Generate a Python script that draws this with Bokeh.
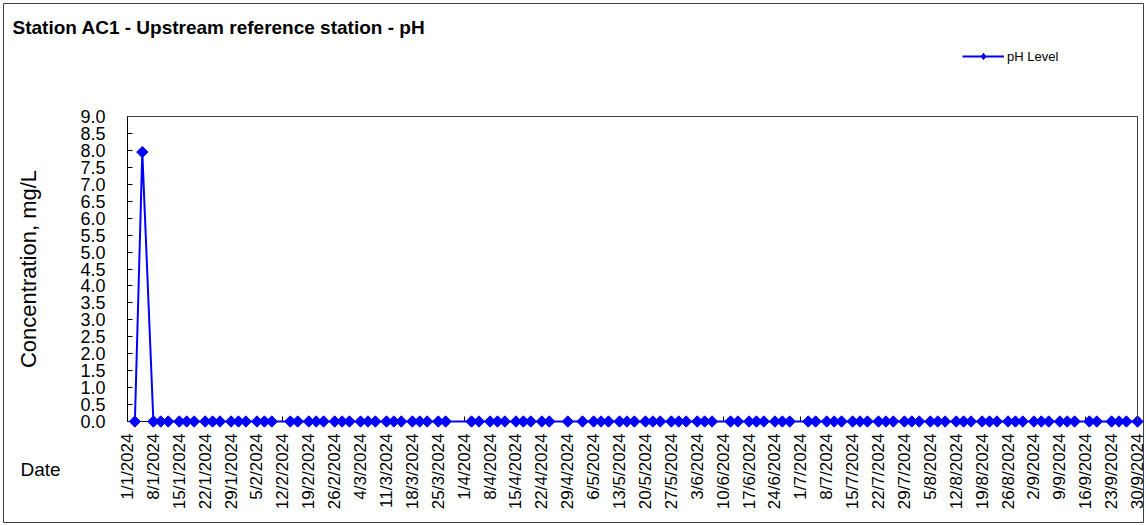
from math import pi
import pandas as pd
from bokeh.plotting import figure
from bokeh.models import (Range1d, FixedTicker, CustomJSTickFormatter, NumeralTickFormatter,
                          Legend, LegendItem, Label, LinearAxis)
from bokeh.embed import file_html
from bokeh.resources import INLINE

# ---- data ----
dates_jan = ["2024-01-03", "2024-01-05", "2024-01-08", "2024-01-10", "2024-01-12", "2024-01-15",
             "2024-01-17", "2024-01-19", "2024-01-22", "2024-01-24", "2024-01-26", "2024-01-29",
             "2024-01-31"]
ph_jan = [0.0, 7.95, 0.0, 0.0, 0.0, 0.0, 0.0, 0.0, 0.0, 0.0, 0.0, 0.0, 0.0]

dates_feb = ["2024-02-02", "2024-02-05", "2024-02-07", "2024-02-09", "2024-02-14", "2024-02-16",
             "2024-02-19", "2024-02-21", "2024-02-23", "2024-02-26", "2024-02-28"]
ph_feb = [0.0, 0.0, 0.0, 0.0, 0.0, 0.0, 0.0, 0.0, 0.0, 0.0, 0.0]

dates_mar = ["2024-03-01", "2024-03-04", "2024-03-06", "2024-03-08", "2024-03-11", "2024-03-13",
             "2024-03-15", "2024-03-18", "2024-03-20", "2024-03-22", "2024-03-25", "2024-03-27"]
ph_mar = [0.0, 0.0, 0.0, 0.0, 0.0, 0.0, 0.0, 0.0, 0.0, 0.0, 0.0, 0.0]

dates_apr = ["2024-04-03", "2024-04-05", "2024-04-08", "2024-04-10", "2024-04-12", "2024-04-15",
             "2024-04-17", "2024-04-19", "2024-04-22", "2024-04-24", "2024-04-29"]
ph_apr = [0.0, 0.0, 0.0, 0.0, 0.0, 0.0, 0.0, 0.0, 0.0, 0.0, 0.0]

dates_may = ["2024-05-03", "2024-05-06", "2024-05-08", "2024-05-10", "2024-05-13", "2024-05-15",
             "2024-05-17", "2024-05-20", "2024-05-22", "2024-05-24", "2024-05-27", "2024-05-29",
             "2024-05-31"]
ph_may = [0.0, 0.0, 0.0, 0.0, 0.0, 0.0, 0.0, 0.0, 0.0, 0.0, 0.0, 0.0, 0.0]

dates_jun = ["2024-06-03", "2024-06-05", "2024-06-07", "2024-06-12", "2024-06-14", "2024-06-17",
             "2024-06-19", "2024-06-21", "2024-06-24", "2024-06-26", "2024-06-28"]
ph_jun = [0.0, 0.0, 0.0, 0.0, 0.0, 0.0, 0.0, 0.0, 0.0, 0.0, 0.0]

dates_jul = ["2024-07-03", "2024-07-05", "2024-07-08", "2024-07-10", "2024-07-12", "2024-07-15",
             "2024-07-17", "2024-07-19", "2024-07-22", "2024-07-24", "2024-07-26", "2024-07-29",
             "2024-07-31"]
ph_jul = [0.0, 0.0, 0.0, 0.0, 0.0, 0.0, 0.0, 0.0, 0.0, 0.0, 0.0, 0.0, 0.0]

dates_aug = ["2024-08-02", "2024-08-05", "2024-08-07", "2024-08-09", "2024-08-12", "2024-08-14",
             "2024-08-16", "2024-08-19", "2024-08-21", "2024-08-23", "2024-08-26", "2024-08-28",
             "2024-08-30"]
ph_aug = [0.0, 0.0, 0.0, 0.0, 0.0, 0.0, 0.0, 0.0, 0.0, 0.0, 0.0, 0.0, 0.0]

dates_sep = ["2024-09-02", "2024-09-04", "2024-09-06", "2024-09-09", "2024-09-11", "2024-09-13",
             "2024-09-17", "2024-09-19", "2024-09-23", "2024-09-25", "2024-09-27", "2024-09-30"]
ph_sep = [0.0, 0.0, 0.0, 0.0, 0.0, 0.0, 0.0, 0.0, 0.0, 0.0, 0.0, 0.0]

x_tick_labels = ["1/1/2024", "8/1/2024", "15/1/2024", "22/1/2024", "29/1/2024", "5/2/2024",
                 "12/2/2024", "19/2/2024", "26/2/2024", "4/3/2024", "11/3/2024", "18/3/2024",
                 "25/3/2024", "1/4/2024", "8/4/2024", "15/4/2024", "22/4/2024", "29/4/2024",
                 "6/5/2024", "13/5/2024", "20/5/2024", "27/5/2024", "3/6/2024", "10/6/2024",
                 "17/6/2024", "24/6/2024", "1/7/2024", "8/7/2024", "15/7/2024", "22/7/2024",
                 "29/7/2024", "5/8/2024", "12/8/2024", "19/8/2024", "26/8/2024", "2/9/2024",
                 "9/9/2024", "16/9/2024", "23/9/2024", "30/9/2024"]
y_tick_values = [0.0, 0.5, 1.0, 1.5, 2.0, 2.5, 3.0, 3.5, 4.0, 4.5, 5.0, 5.5, 6.0, 6.5, 7.0,
                 7.5, 8.0, 8.5, 9.0]
y_min, y_max = 0.0, 9.0

title_text = "Station AC1 - Upstream reference station - pH"
series_name = "pH Level"
y_title = "Concentration, mg/L"
x_title = "Date"

# ---- build ----
dates = pd.to_datetime(dates_jan + dates_feb + dates_mar + dates_apr + dates_may +
                       dates_jun + dates_jul + dates_aug + dates_sep)
ph = ph_jan + ph_feb + ph_mar + ph_apr + ph_may + ph_jun + ph_jul + ph_aug + ph_sep

tick_dates = pd.to_datetime(x_tick_labels, format="%d/%m/%Y")
tick_ms = [float(t.value // 10**6) for t in tick_dates]
t0, t1 = tick_ms[0], tick_ms[-1]

FONT = "Liberation Sans"
BLUE = "#0000FF"
BORDER = "#404040"

# ---- pixel layout (canvas 1146 x 525) ----
W, H = 1146, 525
PAD = 3                                  # chart-area border inset
BOX_L, BOX_R, BOX_T, BOX_B = 127, 1137, 116, 421   # plot box in canvas pixels
FR_L, FR_R, FR_T, FR_B = PAD, W - PAD, PAD, H - PAD  # frame covers the whole chart area
ms_per_px = (t1 - t0) / (BOX_R - BOX_L)
u_per_px = (y_max - y_min) / (BOX_B - BOX_T)
x_start = t0 - (BOX_L - FR_L) * ms_per_px
x_end = t1 + (FR_R - BOX_R) * ms_per_px
y_start = y_min - (FR_B - BOX_B) * u_per_px
y_end = y_max + (BOX_T - FR_T) * u_per_px

p = figure(width=W, height=H, x_axis_type="datetime",
           output_backend="svg", toolbar_location=None,
           x_range=Range1d(x_start, x_end), y_range=Range1d(y_start, y_end),
           min_border_left=PAD, min_border_right=PAD,
           min_border_top=PAD, min_border_bottom=PAD,
           background_fill_color="white", border_fill_color="white")

p.xgrid.visible = False
p.ygrid.visible = False
p.outline_line_color = BORDER
p.outline_line_width = 1

# x axis at y = 0
xa = p.xaxis[0]
xa.fixed_location = y_min
xa.bounds = (t0, t1)
xa.level = "underlay"
xa.ticker = FixedTicker(ticks=tick_ms)
xa.formatter = CustomJSTickFormatter(code="""
const d = new Date(tick);
return d.getUTCDate() + '/' + (d.getUTCMonth() + 1) + '/' + d.getUTCFullYear();
""")
xa.major_label_orientation = pi / 2
xa.major_label_text_font = FONT
xa.major_label_text_font_size = "17px"
xa.major_label_text_color = "black"
xa.major_label_standoff = 12
xa.major_tick_in = 5
xa.major_tick_out = 0
xa.minor_tick_line_color = None
xa.axis_line_color = "black"
xa.major_tick_line_color = "black"

# y axis at x = 1/1/2024
ya = p.yaxis[0]
ya.fixed_location = t0
ya.bounds = (y_min, y_max)
ya.level = "underlay"
ya.ticker = FixedTicker(ticks=y_tick_values)
ya.formatter = NumeralTickFormatter(format="0.0")
ya.major_label_text_font = FONT
ya.major_label_text_font_size = "18px"
ya.major_label_text_color = "black"
ya.major_label_standoff = 22
ya.major_tick_in = 5
ya.major_tick_out = 0
ya.minor_tick_line_color = None
ya.axis_line_color = "black"
ya.major_tick_line_color = "black"
ya.axis_label = y_title
ya.axis_label_text_font = FONT
ya.axis_label_text_font_style = "normal"
ya.axis_label_text_font_size = "22px"
ya.axis_label_text_color = "black"
ya.axis_label_standoff = 36

# plot-box border: right and top sides as bare axes
right_border = LinearAxis(fixed_location=t1, bounds=(y_min, y_max), ticker=FixedTicker(ticks=[]),
                          major_label_text_font_size="0px", major_label_standoff=0,
                          major_tick_in=0, major_tick_out=0, minor_tick_in=0, minor_tick_out=0,
                          axis_line_color=BORDER, axis_line_width=1)
p.add_layout(right_border, "right")
top_border = LinearAxis(fixed_location=y_max, bounds=(t0, t1), ticker=FixedTicker(ticks=[]),
                        major_label_text_font_size="0px", major_label_standoff=0,
                        major_tick_in=0, major_tick_out=0, minor_tick_in=0, minor_tick_out=0,
                        axis_line_color=BORDER, axis_line_width=1)
p.add_layout(top_border, "above")

# series
line_r = p.line(dates, ph, line_color=BLUE, line_width=2)
mark_r = p.scatter(dates, ph, marker="square", size=8, angle=pi / 4,
                   fill_color=BLUE, line_color=BLUE)
# hidden diamond copy of the same series, used only for the legend sample
legend_mark = p.scatter(dates, ph, marker="diamond", size=8,
                        fill_color=BLUE, line_color=BLUE, visible=False)

legend = Legend(items=[LegendItem(label=series_name, renderers=[line_r, legend_mark])],
                location=(962 - FR_L, FR_B - 64), orientation="horizontal",
                padding=0, margin=0, spacing=0, click_policy="none",
                border_line_color=None, background_fill_alpha=0,
                glyph_width=42, glyph_height=16, label_height=16,
                label_standoff=3,
                label_text_font=FONT, label_text_font_size="13px",
                label_text_color="black")
p.add_layout(legend)

# chart title and category-axis title as free texts (screen px from frame bottom-left)
p.add_layout(Label(x=12 - FR_L, y=FR_B - 27, x_units="screen", y_units="screen",
                   text=title_text, text_font=FONT, text_font_size="19px",
                   text_font_style="bold", text_baseline="alphabetic", text_color="black"))
p.add_layout(Label(x=20 - FR_L, y=FR_B - 469, x_units="screen", y_units="screen", text=x_title,
                   text_font=FONT, text_font_size="19px", text_baseline="alphabetic",
                   text_color="black"))

open("out.html", "w").write(file_html(p, INLINE))
